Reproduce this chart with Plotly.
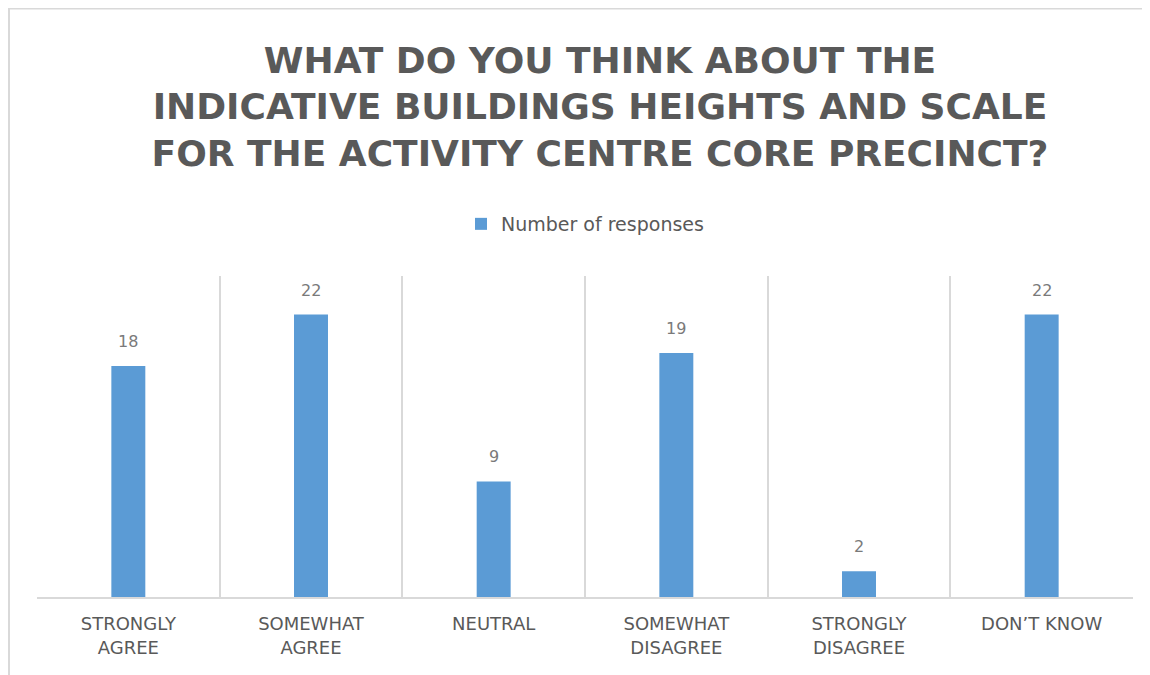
import plotly.graph_objects as go

categories = ["STRONGLY<br>AGREE", "SOMEWHAT<br>AGREE", "NEUTRAL",
              "SOMEWHAT<br>DISAGREE", "STRONGLY<br>DISAGREE", "DON’T KNOW"]
responses = [18, 22, 9, 19, 2, 22]
series_name = "Number of responses"
title_text = ("WHAT DO YOU THINK ABOUT THE<br>INDICATIVE BUILDINGS HEIGHTS AND SCALE"
              "<br>FOR THE ACTIVITY CENTRE CORE PRECINCT?")

# page body has an 8px margin, so the figure is drawn 8px in from the window edge
OFF = 8
W, H = 1150 - OFF, 675 - OFF
L, R, T, B = 37 - OFF, 1150 - 1133, 276 - OFF, 675 - 597
pw, ph = W - L - R, H - T - B

TEXT = "#595959"
FONT = "DejaVu Sans"

fig = go.Figure()
fig.add_trace(go.Bar(
    x=categories, y=responses, name=series_name,
    marker=dict(color="#5b9bd5", line=dict(width=0)),
    width=0.186,
    showlegend=True,
))

annotations = [
    dict(x=c, y=v, xref="x", yref="y", text=str(v), showarrow=False,
         yanchor="bottom", yshift=13,
         font=dict(family=FONT, size=16, color="#7a7a7a"))
    for c, v in zip(categories, responses)
]

fig.update_layout(
    width=W, height=H,
    margin=dict(l=L, r=R, t=T, b=B, autoexpand=False),
    paper_bgcolor="white", plot_bgcolor="white",
    title=dict(text=title_text, x=(600 - OFF) / W, xanchor="center",
               y=1 - (106.5 - OFF - 34) / H, yanchor="middle",
               font=dict(family=FONT, size=36, color=TEXT, weight="bold")),
    legend=dict(orientation="h", x=(585 - OFF - L) / pw, xanchor="center",
                y=(597 - 224) / ph, yanchor="middle",
                font=dict(family=FONT, size=19, color=TEXT),
                itemwidth=30, itemsizing="constant"),
    bargap=0.8,
    annotations=annotations,
    xaxis=dict(showgrid=True, gridcolor="#d9d9d9", gridwidth=1.5,
               tickson="boundaries", ticks="", showline=True,
               linecolor="#d9d9d9", linewidth=1.5,
               ticklabelstandoff=10,
               tickfont=dict(family=FONT, size=18, color=TEXT),
               range=[-0.5, 5.5], fixedrange=True),
    yaxis=dict(range=[0, 25], showgrid=False, showticklabels=False,
               zeroline=False, showline=False, ticks=""),
    shapes=[
        dict(type="line", xref="paper", yref="paper",
             x0=(0 - L) / pw, x1=(W + 5 - L) / pw,
             y0=(H - B - 0.5) / ph, y1=(H - B - 0.5) / ph,
             line=dict(color="#d9d9d9", width=2)),
        dict(type="line", xref="paper", yref="paper",
             x0=(1 - L) / pw, x1=(1 - L) / pw,
             y0=(H - B) / ph, y1=(-B - 10) / ph,
             line=dict(color="#d9d9d9", width=2)),
    ],
)

fig.write_html("out.html")
